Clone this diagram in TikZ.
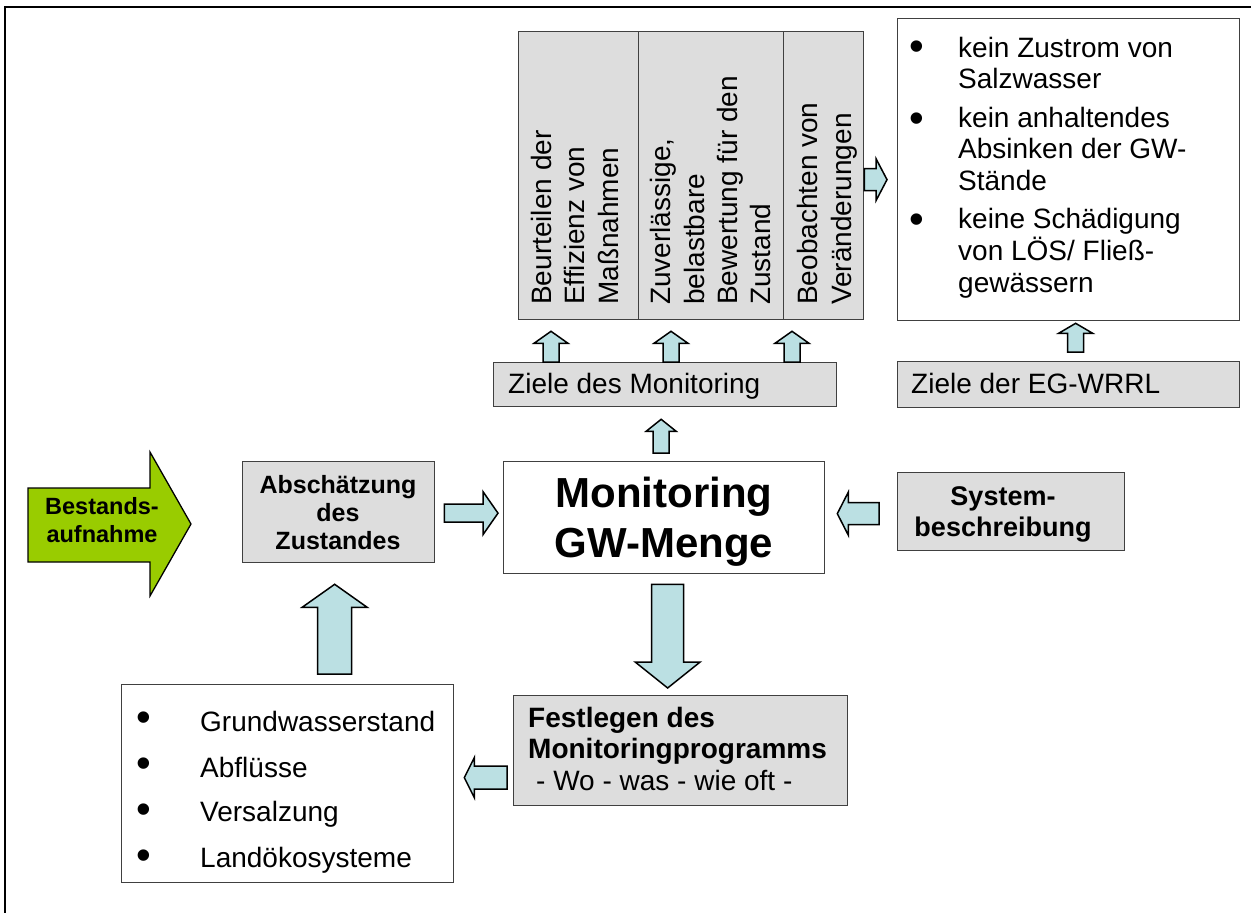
\documentclass[tikz,border=0pt]{standalone}
\usepackage{fontspec}
\setmainfont{Liberation Sans}
\usetikzlibrary{calc}

\definecolor{boxgray}{HTML}{DDDDDD}
\definecolor{arrowcyan}{HTML}{BBE0E3}
\definecolor{leafgreen}{HTML}{99CC00}
\definecolor{edgegray}{HTML}{404040}

% Block arrow from #1 to the tip #2: shaft half-width #3, head half-width #4, head length #5
\newcommand\fatarrow[5]{%
  \coordinate (fah) at ($(#2)!#5!(#1)$);
  \draw[blockarrow]
    ($(#1)!#3!90:(#2)$) -- ($(fah)!#3!90:(#2)$) -- ($(fah)!#4!90:(#2)$) -- (#2)
    -- ($(fah)!#4!-90:(#2)$) -- ($(fah)!#3!-90:(#2)$) -- ($(#1)!#3!-90:(#2)$) -- cycle;}

\begin{document}
\begin{tikzpicture}[x=1pt,y=-1pt,
  box/.style={draw=edgegray, line width=1.3pt, inner sep=0pt, anchor=north west},
  graybox/.style={box, fill=boxgray},
  whitebox/.style={box, fill=white},
  blockarrow/.style={draw=black, fill=arrowcyan, line width=1.5pt, line join=miter},
  txt/.style={inner sep=0pt, anchor=base west, font=\fontsize{28}{33}\selectfont},
  btxt/.style={inner sep=0pt, anchor=base west, font=\bfseries\fontsize{28}{31}\selectfont},
  vtxt/.style={txt, rotate=90},
  ctxt/.style={inner sep=0pt, anchor=base},
  bul/.style={inner sep=0pt, anchor=base west, font=\fontsize{42}{42}\selectfont},
]
\useasboundingbox (0,0) rectangle (1251,913);

% outer frame
\draw[line width=2pt] (5,913) -- (5,7) -- (1251,7);

% --- goals of the monitoring (upright columns) ---
\node[graybox, minimum width=120pt, minimum height=288pt] (b1) at (518,31) {};
\node[graybox, minimum width=145pt, minimum height=288pt] (b2) at (638,31) {};
\node[graybox, minimum width=80pt,  minimum height=288pt] (b3) at (783,31) {};

\node[vtxt] (b1t1) at (551,305) {Beurteilen der};
\node[vtxt] (b1t2) at (584,305) {Effizienz von};
\node[vtxt] (b1t3) at (618,305) {Maßnahmen};
\node[vtxt] (b2t1) at (670,305) {Zuverlässige,};
\node[vtxt] (b2t2) at (704,305) {belastbare};
\node[vtxt] (b2t3) at (737,305) {Bewertung für den};
\node[vtxt] (b2t4) at (770,305) {Zustand};
\node[vtxt] (b3t1) at (817,305) {Beobachten von};
\node[vtxt] (b3t2) at (851,305) {Veränderungen};

\node[graybox, minimum width=343pt, minimum height=44pt] (zm) at (493,362) {};
\node[txt] (zmt) at (508,393) {Ziele des Monitoring};

% --- goals of the water framework directive ---
\node[whitebox, minimum width=342pt, minimum height=302pt] (zb) at (897,18) {};
\node[bul] at (909.4,60)  {\textbullet};
\node[txt] at (958,57)  {kein Zustrom von};
\node[txt] at (958,88)  {Salzwasser};
\node[bul] at (909.4,132) {\textbullet};
\node[txt] at (958,127) {kein anhaltendes};
\node[txt] at (958,158) {Absinken der GW-};
\node[txt] at (958,190) {Stände};
\node[bul] at (909.4,233) {\textbullet};
\node[txt] at (958,228) {keine Schädigung};
\node[txt] at (958,260) {von LÖS/ Fließ-};
\node[txt] at (958,292) {gewässern};

\node[graybox, minimum width=342pt, minimum height=46pt] (zw) at (897,361) {};
\node[txt] (zwt) at (911,393) {Ziele der EG-WRRL};

% --- central row ---
\draw[draw=black, line width=1.3pt, fill=leafgreen, line join=miter]
  (28,488) -- (150,488) -- (150,452) -- (191,524) -- (150,596) -- (150,562) -- (28,562) -- cycle;
\node[ctxt, font=\bfseries\fontsize{23.5}{28}\selectfont] (best1) at (102,514) {Bestands-};
\node[ctxt, font=\bfseries\fontsize{23.5}{28}\selectfont] (best2) at (102,542) {aufnahme};

\node[graybox, minimum width=192pt, minimum height=101pt] (absch) at (242,461) {};
\node[ctxt, font=\bfseries\fontsize{25}{28}\selectfont] at (338,493) {Abschätzung};
\node[ctxt, font=\bfseries\fontsize{25}{28}\selectfont] at (338,521) {des};
\node[ctxt, font=\bfseries\fontsize{25}{28}\selectfont] at (338,549) {Zustandes};

\node[whitebox, minimum width=321pt, minimum height=112pt] (mon) at (503,461) {};
\node[ctxt, font=\bfseries\fontsize{42}{50}\selectfont] at (664,507) {Monitoring};
\node[ctxt, font=\bfseries\fontsize{42}{50}\selectfont] at (664,557) {GW-Menge};

\node[graybox, minimum width=227pt, minimum height=78pt] (sys) at (897,472) {};
\node[ctxt, font=\bfseries\fontsize{27}{31}\selectfont] at (1003,505) {System-};
\node[ctxt, font=\bfseries\fontsize{27}{31}\selectfont] at (1003,536) {beschreibung};

% --- programme and measured quantities ---
\node[graybox, minimum width=334pt, minimum height=110pt] (festl) at (513,695) {};
\node[btxt] at (528,727) {Festlegen des};
\node[btxt] at (528,758) {Monitoringprogramms};
\node[txt]  at (536,790) {- Wo - was - wie oft -};

\node[whitebox, minimum width=332pt, minimum height=198pt] (bl) at (121,684) {};
\foreach \yy/\by/\tt in {731/731/Grundwasserstand, 777/777/Abflüsse, 821/823/Versalzung, 867/869/Landökosysteme}{
  \node[bul] at (136.4,\by) {\textbullet};
  \node[txt] at (200,\yy) {\tt};
}

% --- block arrows ---
% Monitoring -> goals of the monitoring
\coordinate (m1s) at ($(mon.north)+(-3,-8)$);
\coordinate (m1e) at ($(m1s |- zm.south)+(0,12)$);
\fatarrow{m1s}{m1e}{8pt}{15pt}{12pt}

% goals of the monitoring -> the three columns
\coordinate (g1s) at ($(zm.north west)+(58,0)$);
\coordinate (g1e) at ($(g1s |- b1.south)+(0,11)$);
\fatarrow{g1s}{g1e}{8pt}{17pt}{12pt}
\coordinate (g2s) at ($(zm.north west)+(178,0)$);
\coordinate (g2e) at ($(g2s |- b2.south)+(0,11)$);
\fatarrow{g2s}{g2e}{8pt}{17pt}{12pt}
\coordinate (g3s) at ($(zm.north west)+(299,0)$);
\coordinate (g3e) at ($(g3s |- b3.south)+(0,11)$);
\fatarrow{g3s}{g3e}{8pt}{17pt}{12pt}

% observing changes -> directive goals
\coordinate (c1s) at ($(b3.east)+(0,4)$);
\coordinate (c1e) at ($(zb.west |- c1s)+(-10,0)$);
\fatarrow{c1s}{c1e}{11pt}{21pt}{11pt}

% EG-WRRL -> directive goals
\coordinate (w1s) at ($(zw.north)+(7,-9)$);
\coordinate (w1e) at ($(w1s |- zb.south)+(0,2)$);
\fatarrow{w1s}{w1e}{8pt}{17pt}{10pt}

% assessment -> Monitoring
\coordinate (a1s) at ($(absch.east)+(9,1)$);
\coordinate (a1e) at ($(a1s -| mon.west)+(-5,0)$);
\fatarrow{a1s}{a1e}{9pt}{21.5pt}{15pt}

% system description -> Monitoring
\coordinate (s1s) at ($(sys.west)+(-18,2)$);
\coordinate (s1e) at ($(s1s -| mon.east)+(12,0)$);
\fatarrow{s1s}{s1e}{11pt}{21.5pt}{11pt}

% Monitoring -> programme
\coordinate (d1s) at ($(mon.south)+(3.5,10)$);
\coordinate (d1e) at ($(d1s |- festl.north)+(0,-7)$);
\fatarrow{d1s}{d1e}{16pt}{32.5pt}{26pt}

% programme -> measured quantities
\coordinate (f1s) at ($(festl.west)+(-6,27)$);
\coordinate (f1e) at ($(f1s -| bl.east)+(10,0)$);
\fatarrow{f1s}{f1e}{11.5pt}{20pt}{10pt}

% measured quantities -> assessment
\coordinate (q1s) at ($(bl.north)+(47,-10)$);
\coordinate (q1e) at ($(q1s |- absch.south)+(0,21)$);
\fatarrow{q1s}{q1e}{17pt}{32.5pt}{23pt}
\end{tikzpicture}
\end{document}
